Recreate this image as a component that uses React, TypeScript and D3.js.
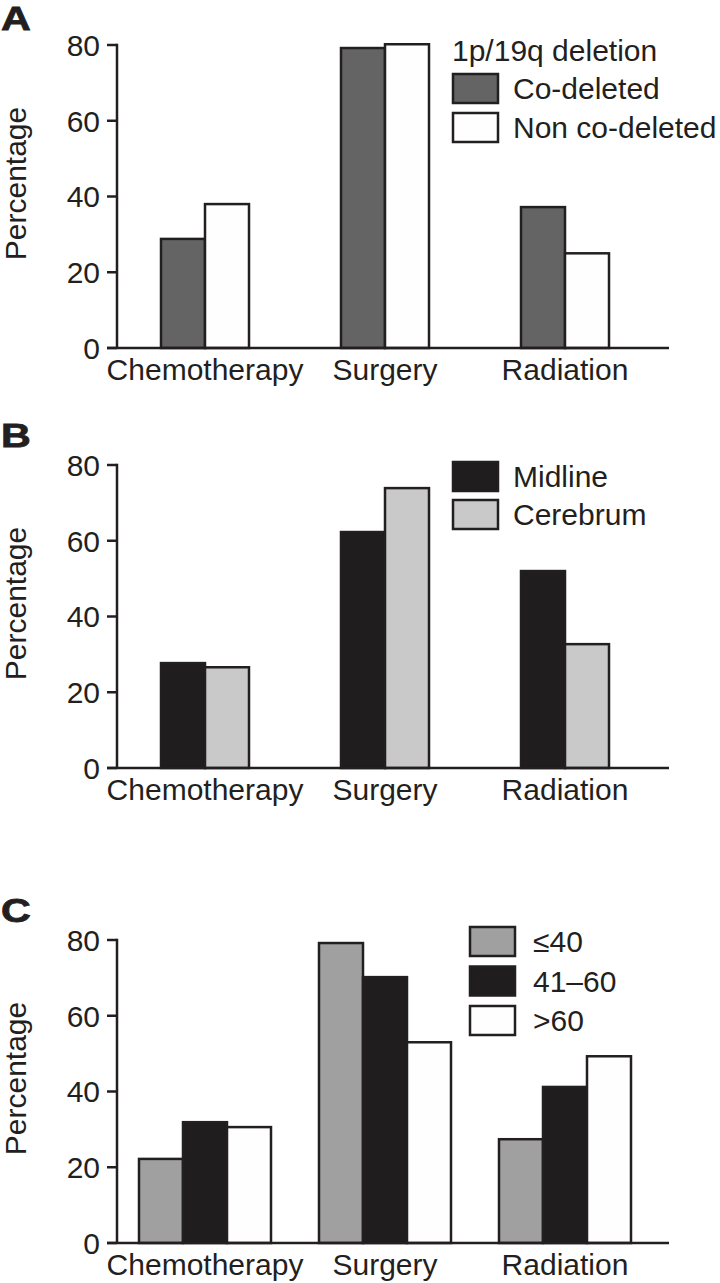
import React from "react";
import * as d3 from "d3";

const categories = ["Chemotherapy", "Surgery", "Radiation"];
const yTicks = [0, 20, 40, 60, 80];

// Panel A: 1p/19q deletion
const codeleted = [28.8, 79.2, 37.2];
const nonCodeleted = [38.0, 80.2, 25.0];
// Panel B: location
const midline = [27.7, 62.3, 52.0];
const cerebrum = [26.6, 73.9, 32.7];
// Panel C: age
const ageLe40 = [22.2, 79.2, 27.4];
const age41to60 = [31.9, 70.2, 41.2];
const ageGt60 = [30.6, 53.0, 49.3];

const STROKE = "#231f20";
const FONT = "'Liberation Sans', Arial, Helvetica, sans-serif";

type Series = { name: string; values: number[]; fill: string };
type Panel = {
  letter: string;
  letterY: number;
  top: number;
  bottom: number;
  series: Series[];
  legendTitle?: string;
  legendTitleY?: number;
  legendX: number;
  legendTextX: number;
  legendY: number;
  legendStep: number;
};

const panels: Panel[] = [
  {
    letter: "A",
    letterY: 30,
    top: 45,
    bottom: 348,
    series: [
      { name: "Co-deleted", values: codeleted, fill: "#646464" },
      { name: "Non co-deleted", values: nonCodeleted, fill: "#fefefe" },
    ],
    legendTitle: "1p/19q deletion",
    legendTitleY: 61,
    legendX: 453,
    legendTextX: 513,
    legendY: 74,
    legendStep: 39,
  },
  {
    letter: "B",
    letterY: 447,
    top: 465,
    bottom: 768,
    series: [
      { name: "Midline", values: midline, fill: "#1f1d1e" },
      { name: "Cerebrum", values: cerebrum, fill: "#c9c9c9" },
    ],
    legendX: 453,
    legendTextX: 513,
    legendY: 462,
    legendStep: 38,
  },
  {
    letter: "C",
    letterY: 922,
    top: 940,
    bottom: 1243,
    series: [
      { name: "≤40", values: ageLe40, fill: "#a0a0a0" },
      { name: "41–60", values: age41to60, fill: "#1f1d1e" },
      { name: ">60", values: ageGt60, fill: "#fefefe" },
    ],
    legendX: 470,
    legendTextX: 533,
    legendY: 927,
    legendStep: 39.5,
  },
];

const AXIS_X = 117;
const AXIS_END = 669;
const BAR_W = 44;

function PanelView({ p }: { p: Panel }) {
  const x0 = d3.scaleBand<string>().domain(categories).range([115, 655]).padding(0);
  const names = p.series.map((s) => s.name);
  const x1 = d3
    .scaleBand<string>()
    .domain(names)
    .range([0, names.length * BAR_W])
    .padding(0);
  const y = d3.scaleLinear().domain([0, 80]).range([p.bottom, p.top]);
  const groupW = names.length * BAR_W;

  return (
    <g>
      <text
        transform={`translate(1, ${p.letterY}) scale(1.25, 1)`}
        fontSize={33}
        fontWeight="bold"
        fontFamily={FONT}
        fill={STROKE}
        stroke={STROKE}
        strokeWidth={0.8}
      >
        {p.letter}
      </text>
      {/* bars */}
      {categories.map((c, ci) => {
        const gx = (x0(c) as number) + x0.bandwidth() / 2 - groupW / 2;
        return p.series.map((s) => (
          <rect
            key={c + s.name}
            x={gx + (x1(s.name) as number)}
            y={y(s.values[ci])}
            width={x1.bandwidth()}
            height={y(0) - y(s.values[ci])}
            fill={s.fill}
            stroke={STROKE}
            strokeWidth={2.5}
          />
        ));
      })}
      {/* y axis */}
      <line x1={AXIS_X} x2={AXIS_X} y1={y(80) - 1.25} y2={y(0)} stroke={STROKE} strokeWidth={2.5} />
      {yTicks.map((t) => (
        <g key={t}>
          <line x1={AXIS_X - 10} x2={AXIS_X} y1={y(t)} y2={y(t)} stroke={STROKE} strokeWidth={2.5} />
          <text
            x={AXIS_X - 17}
            y={y(t)}
            dy="0.36em"
            textAnchor="end"
            fontSize={30}
            fontFamily={FONT}
            fill={STROKE}
          >
            {t}
          </text>
        </g>
      ))}
      {/* x axis */}
      <line x1={AXIS_X - 10} x2={AXIS_END} y1={y(0)} y2={y(0)} stroke={STROKE} strokeWidth={2.5} />
      {categories.map((c) => (
        <text
          key={c}
          x={(x0(c) as number) + x0.bandwidth() / 2}
          y={y(0) + 32}
          textAnchor="middle"
          fontSize={30}
          fontFamily={FONT}
          fill={STROKE}
        >
          {c}
        </text>
      ))}
      {/* y label */}
      <text
        transform={`translate(26, ${(y(0) + y(80)) / 2 - 13}) rotate(-90)`}
        textAnchor="middle"
        fontSize={30}
        fontFamily={FONT}
        fill={STROKE}
      >
        Percentage
      </text>
      {/* legend */}
      {p.legendTitle && (
        <text x={p.legendX - 1} y={p.legendTitleY} fontSize={30} fontFamily={FONT} fill={STROKE}>
          {p.legendTitle}
        </text>
      )}
      {p.series.map((s, i) => (
        <g key={s.name}>
          <rect
            x={p.legendX}
            y={p.legendY + i * p.legendStep}
            width={45}
            height={29}
            fill={s.fill}
            stroke={STROKE}
            strokeWidth={2.5}
          />
          <text
            x={p.legendTextX}
            y={p.legendY + i * p.legendStep + 25}
            fontSize={30}
            fontFamily={FONT}
            fill={STROKE}
          >
            {s.name}
          </text>
        </g>
      ))}
    </g>
  );
}

export default function App() {
  return (
    <svg
      width={720}
      height={1283}
      style={{ position: "absolute", left: 0, top: 0, background: "#fff" }}
    >
      {panels.map((p) => (
        <PanelView key={p.letter} p={p} />
      ))}
    </svg>
  );
}
